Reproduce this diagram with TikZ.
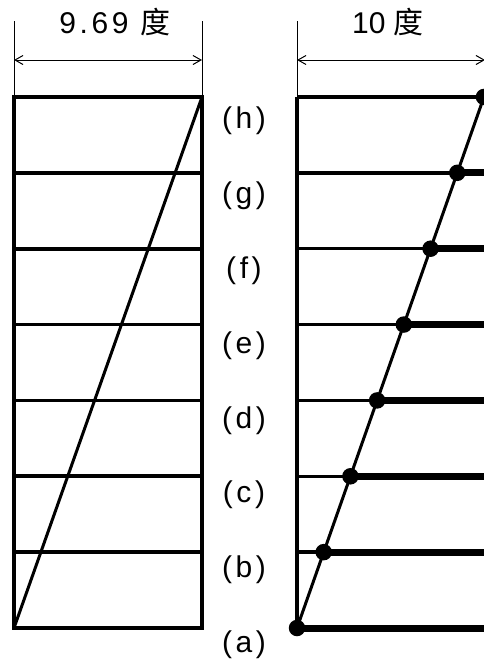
\documentclass[tikz,border=0pt]{standalone}
\usepackage{fontspec}
\setmainfont{Liberation Sans}
\newfontfamily\cjkfont{Noto Sans CJK SC}
\usetikzlibrary{arrows.meta}

\begin{document}
\begin{tikzpicture}[
  x=1pt, y=-1pt,
  font=\fontsize{30}{32}\selectfont,
  frame/.style={line width=4.5pt, line join=miter},
  rung/.style={line width=3.6pt},
  thinrung/.style={line width=3.4pt},
  thickrung/.style={line width=7pt},
  slant/.style={line width=3pt},
  extline/.style={line width=1pt},
  dimline/.style={line width=1pt, {Straight Barb[length=8pt,width=9pt]}-{Straight Barb[length=8pt,width=9pt]}},
  joint/.style={circle, fill, inner sep=0pt, minimum size=16.5pt},
  tag/.style={inner sep=0pt, font=\fontsize{30}{32}\selectfont\addfontfeature{LetterSpace=12}}
]
\useasboundingbox (0,0) rectangle (484,672);

% grid points of both panels
\foreach \k in {0,...,7} {
  \coordinate (LA\k) at (14,{628-75.86*\k});
  \coordinate (LB\k) at (202,{628-75.86*\k});
  \coordinate (RA\k) at (297,{628-75.86*\k});
  \coordinate (RB\k) at (486,{628-75.86*\k});
  \coordinate (P\k) at ({297+26.71*\k},{628-75.86*\k});
}

% dimension marks
\coordinate (LT) at (14,21);
\coordinate (LU) at (202,21);
\coordinate (RT) at (297,21);
\draw[extline] (LT) -- (LA7);
\draw[extline] (LU) -- (LB7);
\draw[extline] (RT) -- (RA7);
\coordinate (DL1) at (14,60);
\coordinate (DL2) at (202,60);
\coordinate (DR1) at (297,60);
\coordinate (DR2) at (485,60);
\draw[dimline] (DL1) -- (DL2);
\draw[dimline] (DR1) -- (DR2);
\node[anchor=base] (wleft) at (115,33) {\addfontfeature{LetterSpace=12}9.69 {\cjkfont 度}};
\node[anchor=base] (wright) at (388,33) {10 {\cjkfont 度}};

% left panel: straight stack
\foreach \k in {1,...,6}
  \draw[rung] (LA\k) -- (LB\k);
\draw[frame] (LA0) rectangle (LB7);
\draw[slant] (LA0) -- (LB7);

% right panel: sheared stack
\draw[rung] (RA0) -- (RA7);
\foreach \k in {1,...,7}
  \draw[thinrung] (RA\k) -- (P\k);
\foreach \k in {0,...,6}
  \draw[thickrung] (P\k) -- (RB\k);
\draw[slant] (P0) -- (P7);
\foreach \k in {0,...,7}
  \node[joint] (J\k) at (P\k) {};

% level labels
\foreach \t [count=\k from 0] in {a,...,h}
  \node[tag] (T\t) at (244,{645-74.9*\k}) {(\t)};
\end{tikzpicture}
\end{document}
